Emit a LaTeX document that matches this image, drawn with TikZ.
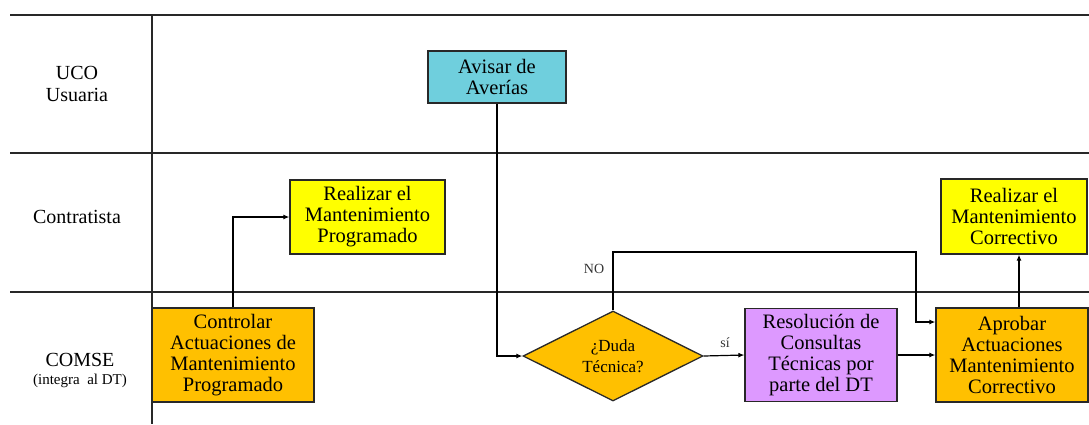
\documentclass[tikz,border=0pt]{standalone}
\usepackage{fontspec}
\setmainfont{Liberation Serif}
\usetikzlibrary{shapes.geometric,arrows.meta}
\definecolor{cyanbox}{RGB}{111,207,221}
\definecolor{yellowbox}{RGB}{255,255,0}
\definecolor{orangebox}{RGB}{255,192,0}
\definecolor{purplebox}{RGB}{221,153,255}
\definecolor{linecol}{RGB}{40,40,40}
\begin{document}
\begin{tikzpicture}[x=1pt,y=-1pt,
  lane/.style={draw=linecol, line width=1.4pt},
  box/.style={draw=linecol, line width=1.3pt, align=center, inner sep=0pt,
    font=\fontsize{20.5}{21}\selectfont},
  lanelabel/.style={align=center, font=\fontsize{20}{22}\selectfont},
  arr/.style={draw=black, line width=1.2pt, -{Latex[length=6pt,width=5pt]}},
  small/.style={font=\fontsize{14}{16}\selectfont, text=black!80}
]
\useasboundingbox (0,0) rectangle (1089,424);
% lanes
\draw[lane] (10,15) -- (1089,15);
\draw[lane] (10,153) -- (1089,153);
\draw[lane] (10,292) -- (1089,292);
\draw[lane] (152,15) -- (152,424);
\node[lanelabel] (l1) at (77,84) {UCO\\Usuaria};
\node[lanelabel] (l2) at (77,217) {Contratista};
\node[lanelabel] (l3) at (80,360) {COMSE};
\node[font=\fontsize{15}{17}\selectfont] (l3b) at (80,381) {(integra\ \ al DT)};
% boxes
\node[box, fill=cyanbox, minimum width=138, minimum height=52] (avisar) at (497,77) {Avisar de\\Averías};
\node[box, fill=yellowbox, minimum width=155, minimum height=74] (realprog) at (367.5,217) {Realizar el\\Mantenimiento\\Programado};
\node[box, fill=orangebox, minimum width=162, minimum height=94] (controlar) at (233,355) {Controlar\\Actuaciones de\\Mantenimiento\\Programado};
\node[draw=linecol, line width=1.3pt, shape=diamond, fill=orangebox, aspect=2, inner sep=0pt,
  minimum width=180, minimum height=90, align=center, font=\fontsize{17}{21}\selectfont] (duda) at (613,356) {¿Duda\\Técnica?};
\node[box, fill=purplebox, minimum width=152, minimum height=93] (resol) at (821,355) {Resolución de\\Consultas\\Técnicas por\\parte del DT};
\node[box, fill=orangebox, minimum width=152, minimum height=94] (aprobar) at (1012,355) {Aprobar\\Actuaciones\\Mantenimiento\\Correctivo};
\node[box, fill=yellowbox, minimum width=146, minimum height=75] (realcorr) at (1014,216.5) {Realizar el\\Mantenimiento\\Correctivo};
% connectors
\draw[arr] (controlar.north) |- (realprog.west);
\draw[arr] (avisar.south) |- (duda.west);
\draw[arr] (duda.east) -- (resol.west);
\node[small] (si) at (725,343) {sí};
\coordinate (nobend) at (916,252);
\draw[arr] (duda.north) |- (nobend) |- ([yshift=33pt]aprobar.west);
\node[small] (no) at (594,269) {NO};
\draw[arr] (resol.east) -- (aprobar.west);
\draw[arr] (aprobar.north -| 1019,0) -- (realcorr.south -| 1019,0);
\end{tikzpicture}
\end{document}
